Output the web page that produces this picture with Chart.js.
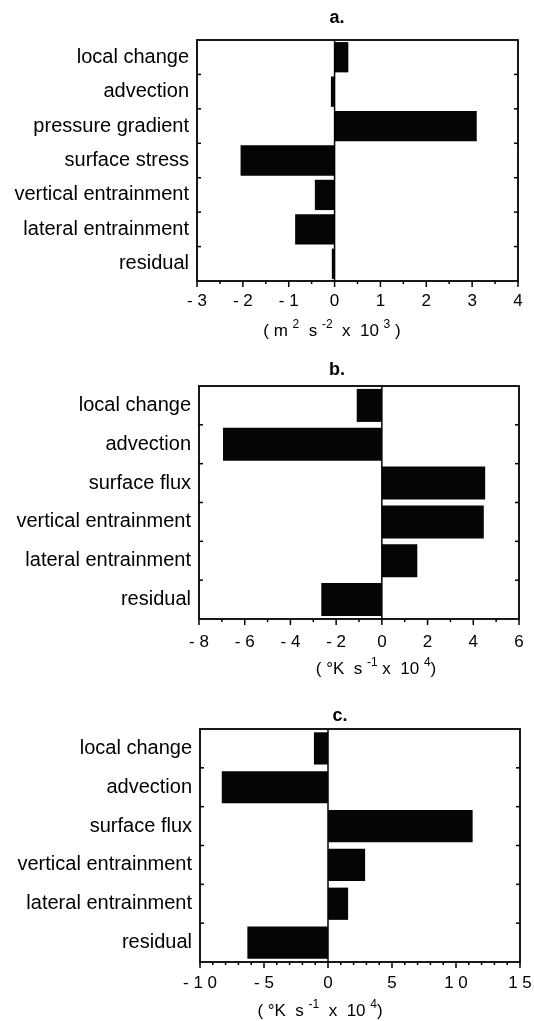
<!DOCTYPE html>
<html><head><meta charset="utf-8">
<script src="https://cdn.jsdelivr.net/npm/chart.js@4.4.1/dist/chart.umd.min.js"></script>
<style>html,body{margin:0;padding:0;background:#fff;width:534px;height:1021px;overflow:hidden}canvas{position:absolute;left:0}</style>
</head><body>
<canvas id="ca" width="534" height="345" style="top:0px"></canvas>
<canvas id="cb" width="534" height="340" style="top:345px"></canvas>
<canvas id="cc" width="534" height="336" style="top:685px"></canvas>
<script>
// ---- data ----
const catsA = ["local change","advection","pressure gradient","surface stress","vertical entrainment","lateral entrainment","residual"];
const valsA = [0.3, -0.08, 3.1, -2.05, -0.43, -0.86, -0.06];
const catsB = ["local change","advection","surface flux","vertical entrainment","lateral entrainment","residual"];
const valsB = [-1.1, -6.95, 4.52, 4.46, 1.55, -2.65];
const catsC = ["local change","advection","surface flux","vertical entrainment","lateral entrainment","residual"];
const valsC = [-1.1, -8.3, 11.3, 2.9, 1.57, -6.3];
const tickValsA = [-3,-2,-1,0,1,2,3,4];
const tickLabelsA = ["- 3","- 2","- 1","0","1","2","3","4"];
const tickValsB = [-8,-6,-4,-2,0,2,4,6];
const tickLabelsB = ["- 8","- 6","- 4","- 2","0","2","4","6"];
const tickValsC = [-10,-5,0,5,10,15];
const tickLabelsC = ["- 1 0","- 5","0","5","1 0","1 5"];
const panelTitles = ["a.","b.","c."];
// axis titles: [text, isSuperscript]
const unitA = [["( m ",0],["2",1],["  s ",0],["-2",1],["  x  10 ",0],["3",1],[" )",0]];
const unitB = [["( °K  s ",0],["-1",1],[" x  10 ",0],["4",1],[")",0]];
const unitC = [["( °K  s ",0],["-1",1],["  x  10 ",0],["4",1],[")",0]];

const FONT = '"Liberation Sans", Arial, Helvetica, sans-serif';

function makeChart(id, cfg) {
  const H = cfg.canvasH, T = cfg.canvasTop;
  const plotTop = cfg.box.top - T, plotBottom = cfg.box.bottom - T;
  const frame = {
    id: 'frame',
    afterDatasetsDraw(chart) {
      const ctx = chart.ctx, a = chart.chartArea;
      const xs = chart.scales.x, ys = chart.scales.y;
      ctx.save();
      ctx.strokeStyle = '#000';
      const x0 = xs.getPixelForValue(0);
      ctx.lineWidth = 1.5;
      ctx.beginPath(); ctx.moveTo(x0, a.top); ctx.lineTo(x0, a.bottom); ctx.stroke();
      ctx.lineWidth = 1.8;
      ctx.strokeRect(a.left, a.top, a.right - a.left, a.bottom - a.top);
      ctx.lineWidth = 1.5;
      const n = Math.round((cfg.max - cfg.min) / cfg.minor);
      for (let i = 0; i <= n; i++) {
        const v = cfg.min + i * cfg.minor;
        const px = xs.getPixelForValue(v);
        const major = Math.abs(v / cfg.step - Math.round(v / cfg.step)) < 1e-6;
        ctx.beginPath(); ctx.moveTo(px, a.bottom); ctx.lineTo(px, a.bottom + (major ? 6 : 3)); ctx.stroke();
      }
      for (let i = 1; i < cfg.cats.length; i++) {
        const py = (ys.getPixelForValue(i - 1) + ys.getPixelForValue(i)) / 2;
        ctx.beginPath(); ctx.moveTo(a.left, py); ctx.lineTo(a.left + 4, py); ctx.stroke();
        ctx.beginPath(); ctx.moveTo(a.right, py); ctx.lineTo(a.right - 4, py); ctx.stroke();
      }
      ctx.fillStyle = '#000';
      ctx.font = 'bold 18px ' + FONT;
      ctx.textAlign = 'center'; ctx.textBaseline = 'middle';
      ctx.fillText(cfg.title, cfg.titleX, cfg.titleY - T);
      ctx.textAlign = 'left'; ctx.textBaseline = 'alphabetic';
      const mainF = '17px ' + FONT, supF = '12px ' + FONT;
      let total = 0;
      cfg.unit.forEach(([s, sup]) => { ctx.font = sup ? supF : mainF; total += ctx.measureText(s).width; });
      let x = cfg.unitX - total / 2;
      const base = cfg.unitY - T + 6;
      cfg.unit.forEach(([s, sup]) => {
        ctx.font = sup ? supF : mainF;
        ctx.fillText(s, x, sup ? base - 8 : base);
        x += ctx.measureText(s).width;
      });
      ctx.restore();
    }
  };
  return new Chart(document.getElementById(id), {
    type: 'bar',
    data: { labels: cfg.cats, datasets: [{ data: cfg.vals, backgroundColor: '#050505', borderWidth: 0, barPercentage: cfg.barPct, categoryPercentage: 1 }] },
    options: {
      indexAxis: 'y', responsive: false, animation: false, devicePixelRatio: 1,
      layout: { padding: { left: 0, right: 534 - cfg.box.right, top: plotTop, bottom: 0 } },
      plugins: { legend: { display: false }, tooltip: { enabled: false }, title: { display: false } },
      scales: {
        x: {
          type: 'linear', min: cfg.min, max: cfg.max,
          grid: { display: false, drawTicks: false }, border: { display: false },
          ticks: { stepSize: cfg.step, autoSkip: false, maxRotation: 0, padding: cfg.xPad,
            font: { family: FONT, size: 17 }, color: '#000',
            callback: (v) => { const k = cfg.tickVals.indexOf(v); return k >= 0 ? cfg.tickLabels[k] : ''; } },
          afterFit(s) { s.height = H - plotBottom; s.paddingLeft = 0; s.paddingRight = 0; }
        },
        y: {
          grid: { display: false, drawTicks: false }, border: { display: false },
          ticks: { padding: 8, autoSkip: false, font: { family: FONT, size: 20 }, color: '#000' },
          afterFit(s) { s.width = cfg.box.left; s.paddingTop = 0; s.paddingBottom = 0; }
        }
      }
    },
    plugins: [frame]
  });
}

makeChart('ca', { canvasTop: 0, canvasH: 345, box: { left: 197, right: 518, top: 40, bottom: 281 },
  cats: catsA, vals: valsA, min: -3, max: 4, step: 1, minor: 0.5, tickVals: tickValsA, tickLabels: tickLabelsA,
  xPad: 10, barPct: 0.88, title: panelTitles[0], titleX: 337, titleY: 18, unit: unitA, unitX: 332, unitY: 330 });
makeChart('cb', { canvasTop: 345, canvasH: 340, box: { left: 199, right: 519, top: 386, bottom: 619 },
  cats: catsB, vals: valsB, min: -8, max: 6, step: 2, minor: 1, tickVals: tickValsB, tickLabels: tickLabelsB,
  xPad: 13, barPct: 0.85, title: panelTitles[1], titleX: 337, titleY: 370, unit: unitB, unitX: 376, unitY: 668 });
makeChart('cc', { canvasTop: 685, canvasH: 336, box: { left: 200, right: 520, top: 729, bottom: 962 },
  cats: catsC, vals: valsC, min: -10, max: 15, step: 5, minor: 1, tickVals: tickValsC, tickLabels: tickLabelsC,
  xPad: 11, barPct: 0.83, title: panelTitles[2], titleX: 340, titleY: 716, unit: unitC, unitX: 320, unitY: 1010 });
</script>
</body></html>
